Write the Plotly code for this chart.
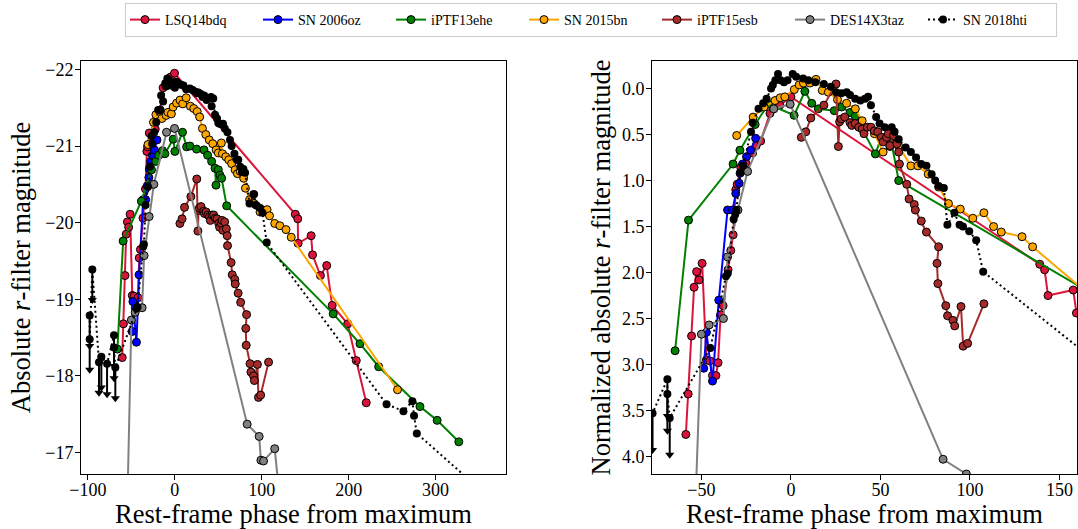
import plotly.graph_objects as go

# ---------------- LEFT PANEL : absolute magnitude ----------------
lsq_abs_x = [-60.6, -59.2, -57.4, -56.0, -54.6, -53.2, -51.5, -49.0, -47.0, -45.5, -43.6, -42.4, -41.0, -39.6,
             -36.7, -35.2, -33.8, -32.2, -31.4, -29.4, -22.6, -20.8, -16.8, -13.5, -10.6, -5.0, -0.4,
             138.6, 141.4, 141.8, 156.8, 158.4, 167.5, 174.7, 181.0, 198.8, 208.7, 220.2]
lsq_abs_y = [-18.24, -18.68, -19.31, -19.85, -20.01, -19.94, -20.11, -19.05, -19.04, -18.89, -18.89, -19.02, -19.54, -19.65,
             -20.06, -20.27, -20.44, -20.93, -20.99, -21.17, -21.22, -21.39, -21.47, -21.76, -21.79, -21.90, -21.95,
             -20.11, -20.05, -19.73, -19.83, -19.58, -19.31, -19.44, -18.92, -18.68, -18.20, -17.65]

oz_abs_x = [-49.2, -48.3, -44.2, -41.2, -36.5, -33.6, -31.8, -29.9, -29.4, -28.0, -25.8, -23.5, -20.6]
oz_abs_y = [-18.58, -18.97, -18.44, -19.32, -20.30, -20.30, -20.48, -20.59, -20.70, -20.80, -20.88, -20.95, -21.08]

ehe_abs_x = [-66.1, -59.5, -38.5, -26.9, -21.9, -18.5, -14.2, -11.5, -1.9, 0.0, 8.8, 13.5, 17.3, 25.0, 33.5,
             37.7, 42.3, 46.2, 47.3, 50.0, 51.9, 53.8, 59.6, 182.2, 213.0, 234.5, 282.0, 301.8, 326.7]
ehe_abs_y = [-18.35, -19.76, -20.28, -20.69, -20.80, -20.88, -20.94, -20.90, -21.09, -20.93, -21.18, -20.99, -21.00, -20.96, -20.95,
             -20.88, -20.80, -20.71, -20.49, -20.69, -20.62, -20.58, -20.22, -18.81, -18.42, -18.12, -17.60, -17.42, -17.14]

bn_abs_x = [-30.9, -24.6, -21.8, -15.0, -10.0, -7.9, -4.0, -2.0, 2.0, 5.9, 9.0, 13.0, 17.8, 21.8, 25.7, 28.5, 31.7,
            35.6, 39.6, 43.6, 47.5, 50.0, 53.5, 54.7, 58.6, 62.0, 65.3, 69.3, 72.0, 75.2, 79.2, 81.2, 86.0, 91.1,
            98.0, 106.1, 108.9, 114.9, 120.8, 127.9, 133.9, 256.2]
bn_abs_y = [-21.02, -21.31, -21.41, -21.36, -21.40, -21.44, -21.42, -21.51, -21.56, -21.60, -21.55, -21.63, -21.52, -21.49,
            -21.45, -21.38, -21.23, -21.15, -21.08, -21.03, -20.95, -20.91, -21.04, -20.90, -20.86, -20.82, -20.77, -20.69,
            -20.64, -20.67, -20.58, -20.45, -20.30, -20.25, -20.14, -20.17, -20.09, -19.99, -19.96, -19.91, -19.81, -17.82]

esb_abs_x = [5.8, 8.3, 11.1, 18.4, 25.2, 26.5, 27.2, 28.2, 30.1, 33.0, 34.0, 35.9, 37.9, 39.8, 40.8, 42.7, 44.7, 46.6,
             48.5, 50.5, 51.5, 53.4, 54.4, 55.3, 57.3, 59.2, 60.2, 60.6, 64.7, 66.0, 68.9, 69.5, 72.8, 75.7, 82.5, 81.6,
             82.1, 86.5, 87.5, 90.5, 91.5, 95.0, 96.2, 98.7, 107.8]
esb_abs_y = [-19.99, -20.05, -20.20, -20.34, -20.57, -19.89, -20.16, -20.19, -20.21, -20.15, -20.12, -20.14, -20.10, -20.08,
             -20.03, -20.10, -20.10, -20.06, -20.05, -19.99, -19.94, -19.99, -20.03, -19.90, -20.01, -19.92, -19.83, -19.70,
             -19.48, -19.32, -19.26, -19.20, -19.08, -18.96, -18.80, -18.62, -18.40, -18.16, -18.05, -18.00, -17.94, -18.15,
             -17.72, -17.75, -18.18]

des_abs_x = [-58.0, -50.0, -45.7, -37.7, -35.4, -29.6, -24.2, -9.6, -0.4, 83.2, 97.0, 99.0, 102.0, 114.9, 125.0]
des_abs_y = [-14.6, -18.73, -18.83, -18.89, -19.57, -20.08, -20.50, -21.18, -21.23, -17.37, -17.21, -16.90, -16.89, -17.05, -15.9]

hti_ul_abs_x = [-98.0, -98.0, -95.0, -87.3, -84.6, -78.0, -70.0, -70.0, -68.5]
hti_ul_abs_y = [-18.79, -18.48, -19.39, -18.18, -18.25, -18.16, -18.53, -18.37, -18.11]
hti_abs_x = [-44.2, -43.0, -36.4, -35.6, -33.7, -30.9, -28.9, -26.9, -26.1, -23.8, -21.4, -19.2, -17.3, -15.8, -13.5,
             -11.0, -9.6, -8.7, -7.7, -6.7, -5.0, -4.0, -2.0, 0.0, 2.0, 4.8, 7.0, 9.9, 13.0, 17.3, 20.5, 23.8, 25.0,
             27.0, 29.7, 31.9, 33.7, 36.5, 37.6, 41.6, 42.3, 44.2, 46.2, 48.5, 50.0, 51.5, 53.8, 55.4, 57.4, 60.5,
             63.4, 65.3, 68.5, 71.3, 73.0, 75.2, 77.2, 78.8, 80.8, 85.9, 90.3, 91.2, 93.0, 94.2, 98.2, 100.8, 105.7,
             243.6, 263.0, 273.3, 275.2, 278.4, 345.0]
hti_abs_y = [-18.88, -18.90, -19.69, -19.72, -20.23, -20.47, -20.73, -21.13, -21.03, -21.18, -21.31, -21.47, -21.47, -21.66,
             -21.58, -21.82, -21.78, -21.88, -21.86, -21.86, -21.80, -21.79, -21.82, -21.76, -21.84, -21.81, -21.80, -21.79,
             -21.74, -21.75, -21.73, -21.71, -21.69, -21.70, -21.68, -21.64, -21.66, -21.60, -21.62, -21.64, -21.52, -21.62,
             -21.41, -21.36, -21.30, -21.29, -21.28, -21.29, -21.23, -21.18, -21.08, -21.00, -20.90, -20.82, -20.82, -20.73,
             -20.66, -20.70, -20.65, -20.25, -20.37, -20.37, -20.23, -20.22, -20.19, -20.13, -19.74,
             -17.63, -17.54, -17.67, -17.48, -17.25, -16.58]

# ---------------- RIGHT PANEL : normalized magnitude ----------------
lsq_norm_x = [-58.7, -57.4, -55.5, -54.1, -52.7, -51.3, -49.6, -47.2, -45.3, -43.8, -41.9, -40.7, -39.3, -37.9, -35.1,
              -33.6, -32.3, -30.8, -30.0, -28.0, -25.2, -21.4, -19.4, -16.9, -11.7, -9.7, -6.2, 0.0,
              139.0, 141.7, 143.6, 157.7, 159.5, 167.5, 174.7, 181.0]
lsq_norm_y = [3.76, 3.32, 2.69, 2.16, 1.99, 2.08, 1.90, 2.95, 2.96, 3.12, 3.12, 2.98, 2.46, 2.36, 1.97, 1.76, 1.59, 1.10,
              1.04, 0.86, 0.81, 0.70, 0.62, 0.57, 0.27, 0.22, 0.18, 0.09, 1.91, 1.97, 2.25, 2.19, 2.44, 2.72, 2.59, 3.11]

oz_norm_x = [-48.7, -47.2, -43.8, -40.3, -35.4, -32.6, -30.8, -28.9, -28.4, -27.0, -24.8, -22.5, -19.7]
oz_norm_y = [3.04, 2.65, 3.18, 2.30, 1.32, 1.32, 1.14, 1.03, 0.92, 0.82, 0.74, 0.67, 0.54]

ehe_norm_x = [-64.7, -57.2, -32.3, -28.5, -20.0, -12.7, 1.8, 7.8, 11.6, 15.3, 24.2, 28.3, 33.0, 35.9, 47.2, 50.5,
              53.4, 56.3, 60.2, 182.2]
ehe_norm_y = [2.85, 1.43, 0.82, 0.67, 0.39, 0.17, 0.29, 0.03, 0.16, 0.22, 0.24, 0.20, 0.26, 0.30, 0.71, 0.53,
              0.57, 0.60, 1.00, 2.39]

bn_norm_x = [-30.3, -21.1, -15.0, -8.9, -6.0, -3.4, 1.9, 4.6, 7.0, 10.6, 14.0, 17.5, 20.9, 26.0, 31.1, 36.0, 39.8,
             46.6, 51.5, 55.3, 60.0, 67.0, 70.9, 76.7, 82.5, 88.0, 94.6, 101.6, 107.8, 113.2, 117.5, 129.1, 135.0, 256.2]
bn_norm_y = [0.51, 0.31, 0.20, 0.13, 0.10, 0.09, 0.01, -0.04, -0.06, -0.06, -0.10, 0.02, 0.04, 0.12, 0.16, 0.22, 0.35,
             0.49, 0.69, 0.63, 0.62, 0.84, 0.84, 0.93, 1.07, 1.25, 1.31, 1.41, 1.35, 1.50, 1.56, 1.61, 1.72, 3.71]

esb_norm_x = [5.8, 8.3, 11.1, 18.4, 25.2, 26.5, 27.2, 28.2, 30.1, 33.0, 34.0, 35.9, 37.9, 39.8, 40.8, 42.7, 44.7, 46.6,
              48.5, 50.5, 51.5, 53.4, 54.4, 55.3, 57.3, 59.2, 60.2, 60.6, 64.7, 66.0, 68.9, 69.5, 72.8, 75.7, 82.5, 81.6,
              82.1, 86.5, 87.5, 90.5, 91.5, 95.0, 96.2, 98.7, 107.8]
esb_norm_y = [0.53, 0.47, 0.32, 0.18, -0.05, 0.63, 0.36, 0.33, 0.31, 0.37, 0.40, 0.38, 0.42, 0.44, 0.49, 0.42, 0.42, 0.46,
              0.47, 0.53, 0.58, 0.53, 0.49, 0.62, 0.51, 0.60, 0.69, 0.82, 1.04, 1.20, 1.26, 1.32, 1.44, 1.56, 1.72, 1.90,
              2.12, 2.36, 2.47, 2.52, 2.58, 2.37, 2.80, 2.77, 2.34]

des_norm_x = [-58.0, -50.0, -45.7, -37.7, -35.4, -29.6, -24.2, -9.6, -0.4, 85.0, 98.0, 99.5, 102.5, 115.0, 125.0]
des_norm_y = [7.1, 2.67, 2.57, 2.50, 1.83, 1.32, 0.90, 0.22, 0.17, 4.03, 4.19, 4.50, 4.51, 4.35, 5.5]

hti_ul_norm_x = [-98.0, -98.0, -95.0, -87.3, -84.6, -77.3, -69.0, -69.0, -67.7]
hti_ul_norm_y = [2.94, 3.25, 2.34, 3.55, 3.48, 3.53, 3.16, 3.32, 3.58]
hti_norm_x = [-45.0, -36.3, -35.3, -32.0, -31.1, -30.5, -28.2, -26.8, -22.3, -21.4, -18.1, -15.5, -13.6, -11.1, -10.1,
              -8.7, -7.2, -5.8, -3.9, -1.9, 1.0, 2.9, 6.8, 9.7, 13.6, 18.4, 22.3, 25.2, 28.2, 31.1, 33.0, 35.9, 38.8,
              41.4, 43.1, 44.7, 47.6, 49.5, 52.4, 56.3, 57.9, 60.2, 64.1, 67.0, 69.9, 72.8, 75.7, 78.6, 80.6, 82.5,
              85.4, 87.4, 91.3, 94.2, 96.1, 99.6, 103.5, 107.4, 243.6]
hti_norm_y = [2.82, 2.04, 2.01, 1.42, 1.37, 1.32, 0.91, 0.84, 0.47, 0.37, 0.22, 0.16, 0.11, 0.00, -0.04, -0.09, -0.16,
              -0.09, -0.07, -0.09, -0.16, -0.13, -0.11, -0.09, -0.07, -0.05, -0.02, 0.04, 0.05, 0.04, 0.07, 0.11, 0.13,
              0.11, 0.09, 0.18, 0.31, 0.38, 0.42, 0.42, 0.47, 0.55, 0.64, 0.69, 0.75, 0.82, 0.84, 0.93, 1.00, 1.06,
              1.08, 1.48, 1.35, 1.48, 1.50, 1.55, 1.65, 1.99, 4.10]

# ---------------- labels / ticks ----------------
series_names = ["LSQ14bdq", "SN 2006oz", "iPTF13ehe", "SN 2015bn", "iPTF15esb", "DES14X3taz", "SN 2018hti"]
abs_x_tickvals = [-100, 0, 100, 200, 300]
abs_x_ticktext = ["\u2212100", "0", "100", "200", "300"]
abs_y_tickvals = [-22, -21, -20, -19, -18, -17]
abs_y_ticktext = ["\u221222", "\u221221", "\u221220", "\u221219", "\u221218", "\u221217"]
norm_x_tickvals = [-50, 0, 50, 100, 150]
norm_x_ticktext = ["\u221250", "0", "50", "100", "150"]
norm_y_tickvals = [0, 0.5, 1, 1.5, 2, 2.5, 3, 3.5, 4]
norm_y_ticktext = ["0.0", "0.5", "1.0", "1.5", "2.0", "2.5", "3.0", "3.5", "4.0"]

# ---------------- styles ----------------
COLORS = ["#DC143C", "#0000FF", "#008000", "#FFA500", "#A52A2A", "#808080"]
FONT = "Liberation Serif"
UL_ARROW = 0.4

fig = go.Figure()


def add_series(x, y, color, name, xa, ya, show):
    fig.add_trace(go.Scatter(
        x=x, y=y, mode="lines+markers", name=name, legendgroup=name, showlegend=show,
        line=dict(color=color, width=2),
        marker=dict(color=color, size=8, line=dict(color="black", width=1)),
        xaxis=xa, yaxis=ya, hoverinfo="skip"))


def add_hti(ulx, uly, dx, dy, xa, ya, show):
    allx = ulx + dx
    ally = uly + dy
    up = [UL_ARROW] * len(ulx) + [0] * len(dx)
    down = [0] * (len(ulx) + len(dx))
    fig.add_trace(go.Scatter(
        x=allx, y=ally, mode="lines+markers", name=series_names[6], legendgroup="hti", showlegend=show,
        line=dict(color="black", width=2, dash="2px,3px"),
        marker=dict(color="black", size=8),
        error_y=dict(type="data", symmetric=False, array=up, arrayminus=down,
                     color="black", thickness=2, width=0),
        xaxis=xa, yaxis=ya, hoverinfo="skip"))
    fig.add_trace(go.Scatter(
        x=ulx, y=[v + UL_ARROW for v in uly], mode="markers", showlegend=False,
        marker=dict(symbol="triangle-down", size=8, color="black"),
        xaxis=xa, yaxis=ya, hoverinfo="skip"))


left = [(lsq_abs_x, lsq_abs_y), (oz_abs_x, oz_abs_y), (ehe_abs_x, ehe_abs_y), (bn_abs_x, bn_abs_y),
        (esb_abs_x, esb_abs_y), (des_abs_x, des_abs_y)]
right = [(lsq_norm_x, lsq_norm_y), (oz_norm_x, oz_norm_y), (ehe_norm_x, ehe_norm_y), (bn_norm_x, bn_norm_y),
         (esb_norm_x, esb_norm_y), (des_norm_x, des_norm_y)]

for i, (x, y) in enumerate(left):
    add_series(x, y, COLORS[i], series_names[i], "x", "y", True)
add_hti(hti_ul_abs_x, hti_ul_abs_y, hti_abs_x, hti_abs_y, "x", "y", True)

for i, (x, y) in enumerate(right):
    add_series(x, y, COLORS[i], series_names[i], "x2", "y2", False)
add_hti(hti_ul_norm_x, hti_ul_norm_y, hti_norm_x, hti_norm_y, "x2", "y2", False)

W, H = 1078, 529
ML, MR, MT, MB = 81, 1, 61, 55
PW, PH = W - ML - MR, H - MT - MB

axis_common = dict(showline=True, mirror=True, linecolor="black", linewidth=1, ticks="outside", ticklen=5,
                   tickwidth=1, tickcolor="black", showgrid=False, zeroline=False, automargin=False,
                   tickfont=dict(family=FONT, size=18, color="black"))
title_font = dict(family=FONT, size=26.5, color="black")

fig.update_layout(
    width=W, height=H, margin=dict(l=ML, r=MR, t=MT, b=MB, autoexpand=False),
    paper_bgcolor="white", plot_bgcolor="white",
    font=dict(family=FONT, color="black"),
    legend=dict(orientation="h", x=(591 - ML) / PW, xanchor="center", y=1 + (MT - 3) / PH, yanchor="top",
                bordercolor="#cccccc", borderwidth=1, bgcolor="white",
                font=dict(family=FONT, size=14, color="black"),
                entrywidth=88, entrywidthmode="pixels", itemwidth=30, tracegroupgap=0),
    xaxis=dict(domain=[0, 425 / PW], range=[-108, 381], tickvals=abs_x_tickvals, ticktext=abs_x_ticktext,
               ticklabelstandoff=-6,
               title=dict(text="Rest-frame phase from maximum", font=title_font, standoff=2),
               anchor="y", **axis_common),
    yaxis=dict(domain=[0, 1], range=[-16.72, -22.11], tickvals=abs_y_tickvals,
               ticktext=abs_y_ticktext, ticklabelstandoff=-2,
               title=dict(text="Absolute <i>r</i>-filter magnitude", font=title_font, standoff=6),
               anchor="x", **axis_common),
    xaxis2=dict(domain=[571 / PW, 1], range=[-77.6, 159.8], tickvals=norm_x_tickvals,
                ticktext=norm_x_ticktext, ticklabelstandoff=-6,
                title=dict(text="Rest-frame phase from maximum", font=title_font, standoff=2),
                anchor="y2", **axis_common),
    yaxis2=dict(domain=[0, 1], range=[4.19, -0.30], tickvals=norm_y_tickvals,
                ticktext=norm_y_ticktext, ticklabelstandoff=-2,
                title=dict(text="Normalized absolute <i>r</i>-filter magnitude", font=title_font, standoff=3),
                anchor="x2", **axis_common),
)

fig.write_html("out.html")
